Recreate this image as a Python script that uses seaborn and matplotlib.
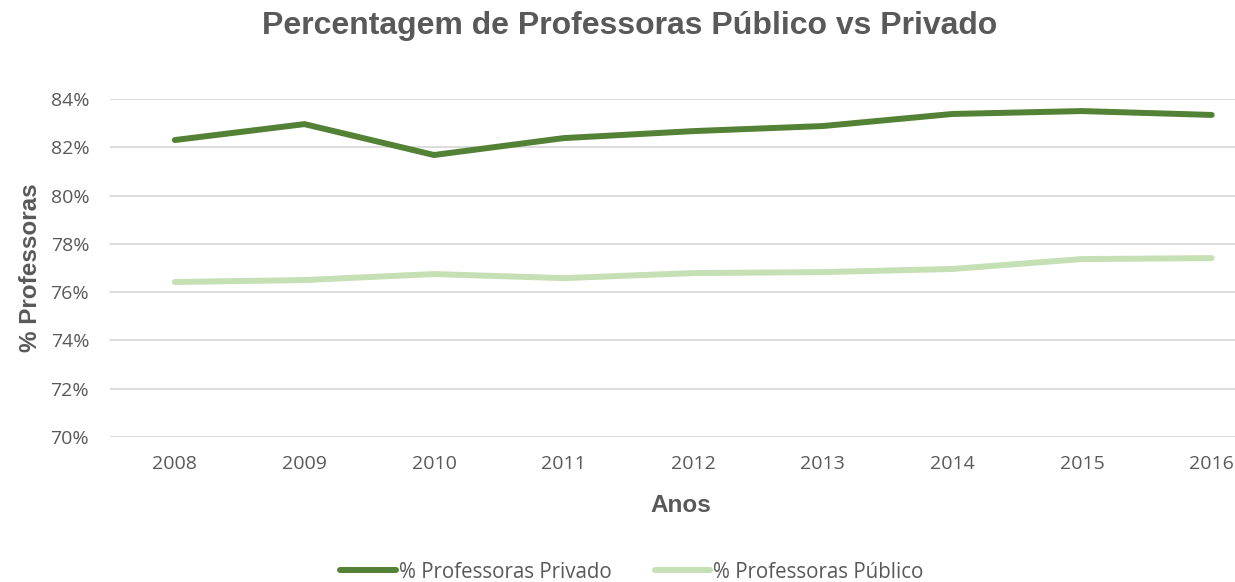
import matplotlib
matplotlib.use("Agg")
import matplotlib.pyplot as plt
import seaborn as sns
import pandas as pd
from matplotlib.lines import Line2D
from matplotlib.ticker import FuncFormatter

anos = [2008, 2009, 2010, 2011, 2012, 2013, 2014, 2015, 2016]
privado = [82.30, 82.96, 81.68, 82.38, 82.67, 82.88, 83.38, 83.50, 83.34]
publico = [76.42, 76.50, 76.75, 76.58, 76.79, 76.83, 76.96, 77.37, 77.41]
series_names = ["% Professoras Privado", "% Professoras Público"]
colors = ["#538135", "#C5E0B4"]
yticks = [70, 72, 74, 76, 78, 80, 82, 84]

df = pd.DataFrame({
    "Ano": anos * 2,
    "Valor": privado + publico,
    "Serie": [series_names[0]] * len(anos) + [series_names[1]] * len(anos),
})

sns.set_theme(style="white")
plt.rcParams["font.family"] = ["Open Sans", "DejaVu Sans"]

gray = "#595959"
fig = plt.figure(figsize=(12.35, 5.82), dpi=100)
ax = fig.add_axes([110 / 1235, 1 - 437 / 582, 1 - 110 / 1235, (437 - 99) / 582])

sns.lineplot(data=df, x="Ano", y="Valor", hue="Serie", palette=colors,
             hue_order=series_names, linewidth=4.3, ax=ax, legend=False,
             solid_capstyle="round")

ax.set_ylim(70, 84)
ax.set_xlim(2007.5, 2016.18)
ax.set_yticks(yticks)
ax.yaxis.set_major_formatter(FuncFormatter(lambda v, p: f"{v:.0f}%"))
ax.set_xticks(anos)
ax.set_xticklabels([str(a) for a in anos])
ax.grid(axis="y", color="#D9D9D9", linewidth=1.3)
ax.grid(axis="x", visible=False)
ax.set_axisbelow(True)
for s in ax.spines.values():
    s.set_visible(False)
ax.tick_params(axis="both", length=0, labelsize=14, labelcolor=gray)
ax.tick_params(axis="x", pad=13)
ax.tick_params(axis="y", pad=15)

ax.set_xlabel("Anos", fontsize=17.5, fontweight="bold", color=gray,
              family="Liberation Sans")
ax.xaxis.set_label_coords((681 - 110) / 1125, -(505 - 437) / 338, transform=ax.transAxes)
ax.xaxis.label.set_va("center")
ax.set_ylabel("% Professoras", fontsize=17.5, fontweight="bold", color=gray,
              family="Liberation Sans")
ax.yaxis.set_label_coords(-(110 - 31) / 1125, 0.5, transform=ax.transAxes)
ax.yaxis.label.set_va("center")

fig.text(630 / 1235, 1 - 26 / 582, "Percentagem de Professoras Público vs Privado",
         ha="center", va="center", fontsize=23, fontweight="bold", color=gray,
         family="Liberation Sans")

handles = [Line2D([0], [0], color=c, linewidth=4.3, solid_capstyle="round") for c in colors]
fig.legend(handles, series_names, loc="center", bbox_to_anchor=(632 / 1235, 1 - 572 / 582),
           ncol=2, frameon=False, fontsize=14.8, labelcolor=gray, handlelength=2.7,
           handletextpad=0.15, columnspacing=2.1)

fig.savefig("out.png", dpi=100)
